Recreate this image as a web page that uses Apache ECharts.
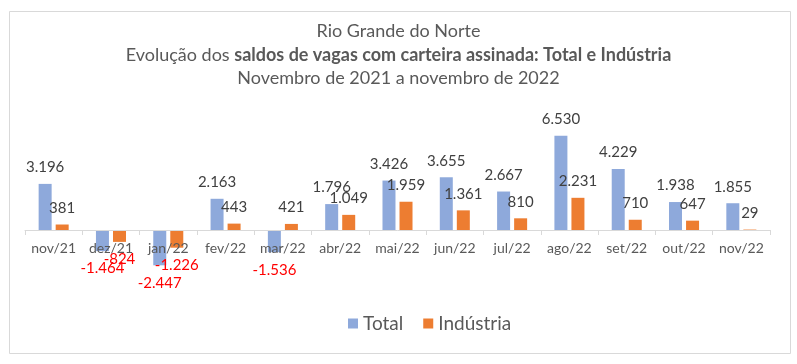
<!DOCTYPE html>
<html>
<head>
<meta charset="utf-8">
<script src="https://cdn.jsdelivr.net/npm/echarts@6/dist/echarts.min.js"></script>
<style>html,body{margin:0;padding:0;background:#fff}#c{width:797px;height:364px}</style>
</head>
<body>
<div id="c"></div>
<script>
const categories = ['nov/21','dez/21','jan/22','fev/22','mar/22','abr/22','mai/22','jun/22','jul/22','ago/22','set/22','out/22','nov/22'];
const totalValues = [3196, -1464, -2447, 2163, -1536, 1796, 3426, 3655, 2667, 6530, 4229, 1938, 1855];
const industriaValues = [381, -824, -1226, 443, 421, 1049, 1959, 1361, 810, 2231, 710, 647, 29];
const seriesNames = ['Total', 'Indústria'];
const titleLines = ['Rio Grande do Norte', 'Evolução dos ', 'saldos de vagas com carteira assinada: Total e Indústria', 'Novembro de 2021 a novembro de 2022'];

const FONT = 'Lato, "Open Sans", sans-serif';
function fmt(v){
  const s = Math.abs(v).toString().replace(/\B(?=(\d{3})+(?!\d))/g, '.');
  return (v < 0 ? '-' : '') + s;
}
function buildData(arr){
  return arr.map(v => v < 0
    ? {value: v, label: {position: 'bottom', distance: 10, color: '#FF0000'}}
    : {value: v});
}
const tStyle = {fontFamily: FONT, fontSize: 18, color: '#595959', fontWeight: 'normal'};
const chart = echarts.init(document.getElementById('c'), null, {renderer: 'canvas'});
chart.setOption({
  animation: false,
  backgroundColor: '#ffffff',
  graphic: [{
    type: 'rect', left: 7, top: 9, shape: {width: 781, height: 342},
    style: {fill: 'none', stroke: '#d9d9d9', lineWidth: 1}, silent: true
  }],
  title: [
    {left: 'center', top: 22, padding: 0, text: titleLines[0], textStyle: tStyle},
    {left: 'center', top: 46, padding: 0,
      text: '{n|' + titleLines[1] + '}{b|' + titleLines[2] + '}',
      textStyle: Object.assign({}, tStyle, {rich: {
        n: {fontFamily: FONT, fontSize: 18, color: '#595959'},
        b: {fontFamily: FONT, fontSize: 18, color: '#595959', fontWeight: 'bold'}
      }})},
    {left: 'center', top: 69, padding: 0, text: titleLines[3], textStyle: tStyle}
  ],
  legend: {
    top: 309, left: 343,
    itemWidth: 10, itemHeight: 10, itemGap: 20,
    icon: 'rect',
    textStyle: {fontFamily: FONT, fontSize: 19, color: '#595959'},
    data: seriesNames
  },
  grid: {left: 25, right: 27, top: 129, bottom: 134, containLabel: false},
  xAxis: {
    type: 'category', data: categories, z: 5,
    axisLine: {lineStyle: {color: '#d9d9d9'}},
    axisTick: {show: true, length: 5, lineStyle: {color: '#d9d9d9'}},
    axisLabel: {fontFamily: FONT, fontSize: 14, color: '#595959', margin: 11, interval: 0}
  },
  yAxis: {type: 'value', min: 0, max: 7000, show: false, splitLine: {show: false}},
  series: [
    {
      name: seriesNames[0], type: 'bar', data: buildData(totalValues),
      barWidth: 13, barGap: '31%', clip: false,
      itemStyle: {color: '#8EA9DB'},
      label: {show: true, position: 'top', distance: 9, fontFamily: FONT, fontSize: 15, color: '#404040',
        formatter: p => fmt(p.value)}
    },
    {
      name: seriesNames[1], type: 'bar', data: buildData(industriaValues),
      barWidth: 13, clip: false,
      itemStyle: {color: '#ED7D31'},
      label: {show: true, position: 'top', distance: 9, fontFamily: FONT, fontSize: 15, color: '#404040',
        formatter: p => fmt(p.value)}
    }
  ]
});
</script>
</body>
</html>
